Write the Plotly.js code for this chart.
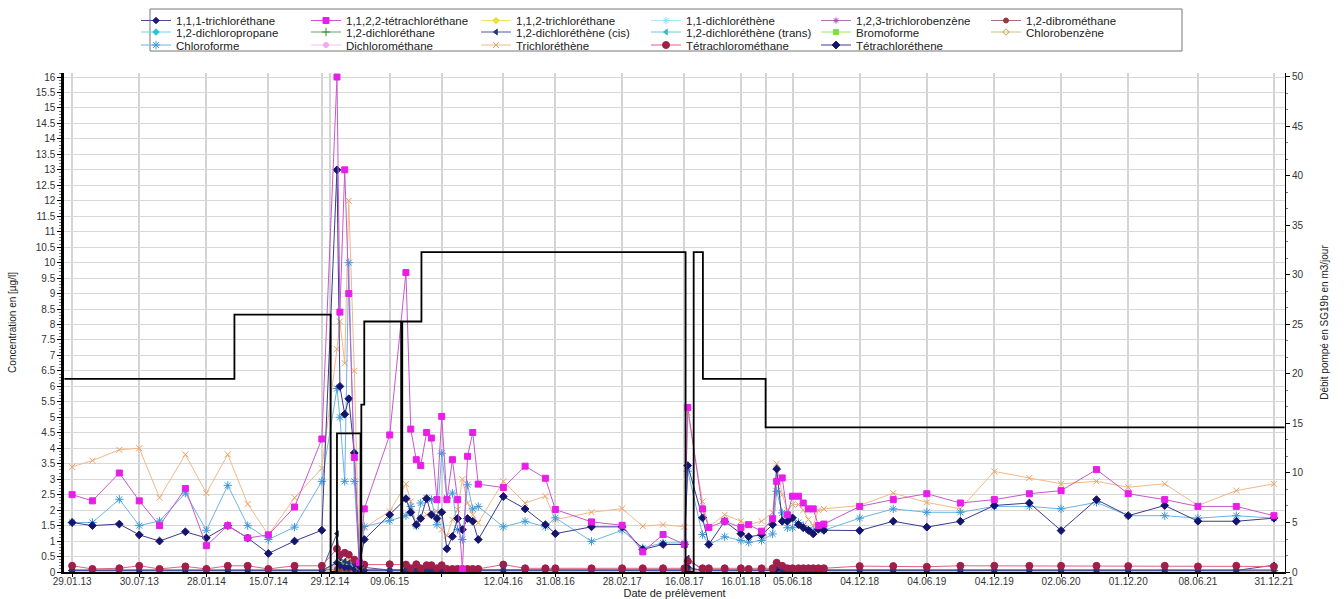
<!DOCTYPE html>
<html><head><meta charset="utf-8">
<script src="https://cdn.plot.ly/plotly-3.0.1.min.js"></script>
<style>html,body{margin:0;padding:0;background:#fff}#chart{width:1344px;height:599px}</style>
</head><body><div id="chart"></div>
<script>
// ---- sample dates (75) ----
const sampleDates = [
'2013-01-29','2013-03-25','2013-06-06','2013-07-30','2013-09-23','2013-12-02','2014-01-28','2014-03-27','2014-05-20','2014-07-15','2014-09-24','2014-12-07',
'2015-01-17','2015-01-25','2015-02-07','2015-02-18','2015-03-05','2015-03-19','2015-04-01',
'2015-06-09',
'2015-07-23','2015-08-05','2015-08-20','2015-09-01','2015-09-17','2015-09-30','2015-10-15','2015-10-28','2015-11-11','2015-11-26','2015-12-10','2015-12-23','2016-01-06','2016-01-20','2016-02-04',
'2016-04-12','2016-06-10','2016-08-04','2016-08-31','2016-12-07','2017-02-28','2017-04-25','2017-06-19','2017-08-16',
'2017-08-25','2017-10-04','2017-10-21','2017-12-03','2018-01-16',
'2018-02-06','2018-03-13','2018-04-12','2018-04-23','2018-05-08','2018-05-22','2018-06-05',
'2018-06-21','2018-07-04','2018-07-18','2018-07-31','2018-08-14','2018-08-29',
'2018-12-04','2019-03-05','2019-06-04','2019-09-03','2019-12-04','2020-03-08','2020-06-02','2020-09-06','2020-12-01','2021-03-10','2021-06-08','2021-09-20','2021-12-31'
];

// ---- main series (µg/l) ----
const tetrachloroethane1122 = [
2.5,2.3,3.2,2.3,1.5,2.7,0.85,1.5,1.1,1.2,2.1,4.3,
16.0,8.4,13.0,9.0,3.7,0.3,2.04,
4.43,
9.68,4.62,3.63,3.44,4.51,4.33,2.34,5.03,2.34,3.63,2.34,0.08,3.74,4.51,2.84,
2.73,3.42,3.03,2.02,1.62,1.51,0.65,1.21,0.89,
5.32,2.04,1.44,1.64,1.44,
1.53,1.32,1.72,2.93,3.04,1.85,2.45,
2.45,2.23,2.04,2.04,1.5,1.55,
2.12,2.34,2.53,2.23,2.34,2.53,2.63,3.31,2.53,2.34,2.12,2.12,1.82
];
const trichloroethene = [
3.4,3.6,3.95,4.0,2.4,3.8,2.55,3.8,2.2,1.2,2.4,3.35,
7.2,8.1,6.75,12.0,6.5,0.2,1.43,
1.96,
2.84,2.28,1.53,1.73,1.85,1.93,1.96,1.37,1.17,1.69,2.02,3.0,2.23,1.85,1.59,
2.93,2.23,2.45,1.69,1.93,2.05,1.48,1.53,1.46,
5.15,2.28,1.46,1.85,1.64,
1.53,1.64,1.92,3.5,2.5,2.0,2.18,
2.18,2.0,1.7,1.5,2.0,2.04,
2.15,2.55,2.25,2.04,3.25,3.04,2.85,2.93,2.74,2.85,2.15,2.63,2.85
];
const chloroforme = [
1.6,1.6,2.35,1.5,1.65,2.55,1.35,2.8,1.5,1.05,1.45,2.93,
5.93,5.0,2.93,10.0,2.93,0.15,1.47,
1.66,
1.82,2.12,1.48,2.23,2.39,2.34,1.53,3.84,2.39,2.55,1.37,1.05,2.82,2.04,2.12,
1.46,1.64,1.46,1.75,0.99,1.35,0.78,0.94,0.94,
3.26,1.21,0.89,1.14,1.02,
0.96,1.02,1.23,2.61,1.91,1.43,1.43,
1.6,1.5,1.35,1.35,1.4,1.35,
1.74,2.04,1.93,1.93,2.12,2.12,2.04,2.25,1.82,1.82,1.74,1.82,1.74
];
const tetrachloroethene = [
1.6,1.5,1.55,1.2,1.0,1.3,1.1,1.5,1.1,0.6,1.0,1.35,
13.0,6.0,5.1,5.6,3.85,0.2,1.05,
1.85,
2.37,1.93,1.53,1.73,2.37,1.85,1.73,1.93,0.75,1.15,1.73,1.37,1.73,1.64,1.05,
2.44,2.04,1.53,1.24,1.46,1.46,0.73,0.89,0.89,
3.44,1.75,0.89,1.64,1.24,
1.14,1.2,1.53,3.33,1.64,1.64,1.75,
1.53,1.43,1.35,1.23,1.38,1.35,
1.34,1.64,1.45,1.64,2.15,2.23,1.34,2.34,1.82,2.15,1.64,1.64,1.74
];
const tetrachloromethane = [
0.2,0.1,0.12,0.2,0.1,0.18,0.1,0.2,0.2,0.1,0.2,0.2,
0.75,0.56,0.62,0.56,0.4,0.17,0.24,
0.25,
0.24,0.12,0.25,0.12,0.22,0.22,0.12,0.22,0.1,0.1,0.1,0.1,0.1,0.1,0.1,
0.24,0.12,0.12,0.12,0.12,0.12,0.12,0.12,0.12,
0.35,0.12,0.12,0.12,0.12,
0.1,0.12,0.12,0.3,0.2,0.12,0.12,
0.12,0.12,0.12,0.12,0.12,0.12,
0.19,0.19,0.17,0.2,0.2,0.2,0.2,0.2,0.19,0.2,0.18,0.2,0.18
];

// ---- minor series near zero (µg/l) ----
const trichloroethane111 = [
0.05,0.05,0.05,0.05,0.05,0.05,0.05,0.05,0.05,0.05,0.05,0.05,
0.3,0.2,0.15,0.15,0.1,0.05,0.05,
0.05,
0.05,0.05,0.05,0.05,0.05,0.05,0.05,0.05,0.05,0.05,0.05,0.05,0.05,0.05,0.05,
0.05,0.05,0.05,0.05,0.05,0.05,0.05,0.05,0.05,
0.15,0.05,0.05,0.05,0.05,
0.05,0.05,0.05,0.1,0.05,0.05,0.05,
0.05,0.05,0.05,0.05,0.05,0.05,
0.05,0.05,0.05,0.05,0.05,0.05,0.05,0.05,0.05,0.05,0.05,0.05,0.22
];
const trichloroethane112 = [
0.04,0.04,0.04,0.04,0.04,0.04,0.04,0.04,0.04,0.04,0.04,0.04,
0.3,0.25,0.2,0.35,0.15,0.04,0.04,
0.04,
0.04,0.04,0.04,0.04,0.04,0.04,0.04,0.04,0.04,0.04,0.04,0.04,0.04,0.04,0.04,
0.04,0.04,0.04,0.04,0.04,0.04,0.04,0.04,0.04,
0.1,0.04,0.04,0.04,0.04,
0.04,0.04,0.04,0.04,0.04,0.04,0.04,
0.04,0.04,0.04,0.04,0.04,0.04,
0.04,0.04,0.04,0.04,0.04,0.04,0.04,0.04,0.04,0.04,0.04,0.04,0.04
];
const dichloroethene11 = [
0.03,0.03,0.03,0.03,0.03,0.03,0.03,0.03,0.03,0.03,0.03,0.03,
0.35,0.3,0.25,0.3,0.2,0.03,0.05,
0.03,
0.03,0.03,0.03,0.03,0.03,0.03,0.03,0.03,0.03,0.03,0.03,0.03,0.03,0.03,0.03,
0.03,0.03,0.03,0.03,0.03,0.03,0.03,0.03,0.03,
0.1,0.03,0.03,0.03,0.03,
0.03,0.03,0.03,0.05,0.03,0.03,0.03,
0.03,0.03,0.03,0.03,0.03,0.03,
0.03,0.03,0.03,0.03,0.03,0.03,0.03,0.03,0.03,0.03,0.03,0.03,0.03
];
const trichlorobenzene123 = [
0.02,0.02,0.02,0.02,0.02,0.02,0.02,0.02,0.02,0.02,0.02,0.02,
0.02,0.02,0.02,0.02,0.02,0.02,0.02,
0.02,
0.02,0.02,0.02,0.02,0.02,0.02,0.02,0.02,0.02,0.02,0.02,0.02,0.02,0.02,0.02,
0.02,0.02,0.02,0.02,0.02,0.02,0.02,0.02,0.02,
0.02,0.02,0.02,0.02,0.02,
0.02,0.02,0.02,0.02,0.02,0.02,0.02,
0.02,0.02,0.02,0.02,0.02,0.02,
0.02,0.02,0.02,0.02,0.02,0.02,0.02,0.02,0.02,0.02,0.02,0.02,0.02
];
const dibromoethane12 = [
0.06,0.06,0.06,0.06,0.06,0.06,0.06,0.06,0.06,0.06,0.06,0.06,
0.1,0.08,0.08,0.08,0.06,0.06,0.06,
0.06,
0.06,0.06,0.06,0.06,0.06,0.06,0.06,0.06,0.06,0.06,0.06,0.06,0.06,0.06,0.06,
0.06,0.06,0.06,0.06,0.06,0.06,0.06,0.06,0.06,
0.06,0.06,0.06,0.06,0.06,
0.06,0.06,0.06,0.06,0.06,0.06,0.06,
0.06,0.06,0.06,0.06,0.06,0.06,
0.06,0.06,0.06,0.06,0.06,0.06,0.06,0.06,0.06,0.06,0.06,0.06,0.06
];
const dichloropropane12 = [
0.03,0.03,0.03,0.03,0.03,0.03,0.03,0.03,0.03,0.03,0.03,0.03,
0.25,0.2,0.2,0.25,0.1,0.03,0.03,
0.03,
0.03,0.03,0.03,0.03,0.03,0.03,0.03,0.03,0.03,0.03,0.03,0.03,0.03,0.03,0.03,
0.03,0.03,0.03,0.03,0.03,0.03,0.03,0.03,0.03,
0.03,0.03,0.03,0.03,0.03,
0.03,0.03,0.03,0.03,0.03,0.03,0.03,
0.03,0.03,0.03,0.03,0.03,0.03,
0.03,0.03,0.03,0.03,0.03,0.03,0.03,0.03,0.03,0.03,0.03,0.03,0.03
];
const dichloroethane12 = [
0.05,0.05,0.05,0.05,0.05,0.05,0.05,0.05,0.05,0.05,0.05,0.05,
0.3,0.25,0.3,0.2,0.15,0.05,0.05,
0.05,
0.05,0.05,0.05,0.05,0.05,0.05,0.05,0.05,0.05,0.05,0.05,0.05,0.05,0.05,0.05,
0.05,0.05,0.05,0.05,0.05,0.05,0.05,0.05,0.05,
0.05,0.05,0.05,0.05,0.05,
0.05,0.05,0.05,0.05,0.05,0.05,0.05,
0.05,0.05,0.05,0.05,0.05,0.05,
0.05,0.05,0.05,0.05,0.05,0.05,0.05,0.05,0.05,0.05,0.05,0.05,0.05
];
const dichloroetheneCis = [
0.06,0.06,0.06,0.06,0.06,0.06,0.06,0.06,0.06,0.06,0.06,0.06,
1.24,0.45,0.35,0.3,0.25,0.1,0.15,
0.06,
0.06,0.06,0.06,0.06,0.06,0.06,0.06,0.06,0.06,0.06,0.06,0.06,0.06,0.06,0.06,
0.06,0.06,0.06,0.06,0.06,0.06,0.06,0.06,0.06,
0.45,0.06,0.06,0.06,0.06,
0.06,0.06,0.06,0.2,0.06,0.06,0.06,
0.06,0.06,0.06,0.06,0.06,0.06,
0.06,0.06,0.06,0.06,0.06,0.06,0.06,0.06,0.06,0.06,0.06,0.06,0.06
];
const dichloroetheneTrans = [
0.03,0.03,0.03,0.03,0.03,0.03,0.03,0.03,0.03,0.03,0.03,0.03,
0.2,0.15,0.15,0.2,0.1,0.03,0.03,
0.03,
0.03,0.03,0.03,0.03,0.03,0.03,0.03,0.03,0.03,0.03,0.03,0.03,0.03,0.03,0.03,
0.03,0.03,0.03,0.03,0.03,0.03,0.03,0.03,0.03,
0.03,0.03,0.03,0.03,0.03,
0.03,0.03,0.03,0.03,0.03,0.03,0.03,
0.03,0.03,0.03,0.03,0.03,0.03,
0.03,0.03,0.03,0.03,0.03,0.03,0.03,0.03,0.03,0.03,0.03,0.03,0.03
];
const bromoforme = [
0.02,0.02,0.02,0.02,0.02,0.02,0.02,0.02,0.02,0.02,0.02,0.02,
0.02,0.02,0.02,0.02,0.02,0.02,0.02,
0.02,
0.02,0.02,0.02,0.02,0.02,0.02,0.02,0.02,0.02,0.02,0.02,0.02,0.02,0.02,0.02,
0.02,0.02,0.02,0.02,0.02,0.02,0.02,0.02,0.02,
0.02,0.02,0.02,0.02,0.02,
0.02,0.02,0.02,0.02,0.02,0.02,0.02,
0.02,0.02,0.02,0.02,0.02,0.02,
0.02,0.02,0.02,0.02,0.02,0.02,0.02,0.02,0.02,0.02,0.02,0.02,0.02
];
const chlorobenzene = [
0.04,0.04,0.04,0.04,0.04,0.04,0.04,0.04,0.04,0.04,0.04,0.04,
0.04,0.04,0.04,0.04,0.04,0.04,0.04,
0.04,
0.04,0.04,0.04,0.04,0.04,0.04,0.04,0.04,0.04,0.04,0.04,0.04,0.04,0.04,0.04,
0.04,0.04,0.04,0.04,0.04,0.04,0.04,0.04,0.04,
0.04,0.04,0.04,0.04,0.04,
0.04,0.04,0.04,0.04,0.04,0.04,0.04,
0.04,0.04,0.04,0.04,0.04,0.04,
0.04,0.04,0.04,0.04,0.04,0.04,0.04,0.04,0.04,0.04,0.04,0.04,0.04
];
const dichloromethane = [
0.05,0.05,0.05,0.05,0.05,0.05,0.05,0.05,0.05,0.05,0.05,0.05,
0.2,0.15,0.1,0.1,0.1,0.05,0.05,
0.05,
0.05,0.05,0.05,0.05,0.05,0.05,0.05,0.05,0.05,0.05,0.05,0.05,0.05,0.05,0.05,
0.05,0.05,0.05,0.05,0.05,0.05,0.05,0.05,0.05,
0.05,0.05,0.05,0.05,0.05,
0.05,0.05,0.05,0.05,0.05,0.05,0.05,
0.05,0.05,0.05,0.05,0.05,0.05,
0.05,0.05,0.05,0.05,0.05,0.05,0.05,0.05,0.05,0.05,0.05,0.05,0.05
];

// ---- pumped flow (m3/jour), step line ----
const flowDates = ['2013-01-08','2014-04-14','2014-12-31','2015-01-17','2015-03-22','2015-03-24','2015-04-01','2015-07-10','2015-07-13','2015-09-03','2017-08-19','2017-09-10','2017-10-05','2018-03-24','2022-01-29'];
const flowValues = [19.5,26.0,0,14.0,0,16.9,25.3,0,25.3,32.3,0,32.3,19.5,14.6,14.6];

// ---- x tick labels ----
const tickDates = ['2013-01-29','2013-07-30','2014-01-28','2014-07-15','2014-12-07','2014-12-29','2015-06-09','2015-10-28','2016-04-12','2016-08-31','2017-02-28','2017-08-16','2018-01-16','2018-03-24','2018-06-05','2018-12-04','2019-06-04','2019-12-04','2020-06-02','2020-12-01','2021-06-08','2021-12-31'];
const tickLabels = ['29.01.13','30.07.13','28.01.14','15.07.14','','29.12.14','09.06.15','','12.04.16','31.08.16','28.02.17','16.08.17','16.01.18','','05.06.18','04.12.18','04.06.19','04.12.19','02.06.20','01.12.20','08.06.21','31.12.21'];

const FONT = 'Liberation Sans, Arial, sans-serif';
const NARROW = 'Liberation Sans Narrow, Liberation Sans, Arial, sans-serif';

// drawing order (first = bottom); r = legend order, g = legend row
const defs = [
 {name:'1,2,3-trichlorobenzène', y:trichlorobenzene123, c:'#a04ca0', l:'#b070b0', s:'asterisk-open', z:5, r:5, g:'legend'},
 {name:'Bromoforme', y:bromoforme, c:'#7ee03a', l:'#9ae860', s:'square', z:5, r:11, g:'legend2'},
 {name:'1,2-dichloréthène (trans)', y:dichloroetheneTrans, c:'#30bccc', l:'#60ccd8', s:'triangle-left', z:5, r:10, g:'legend2'},
 {name:'1,2-dichloropropane', y:dichloropropane12, c:'#20c8d8', l:'#60d8e4', s:'diamond', z:5, r:7, g:'legend2'},
 {name:'1,1-dichloréthène', y:dichloroethene11, c:'#8fe0ee', l:'#a8e8f2', s:'asterisk-open', z:6, r:4, g:'legend'},
 {name:'1,1,2-trichloréthane', y:trichloroethane112, c:'#f0dc40', l:'#f2e470', s:'diamond', z:5, r:3, g:'legend'},
 {name:'Chlorobenzène', y:chlorobenzene, c:'#c0a840', l:'#d0c080', s:'diamond-open', z:5, r:12, g:'legend2'},
 {name:'1,2-dichloréthane', y:dichloroethane12, c:'#2a8a2a', l:'#60a860', s:'cross-thin-open', z:6, r:8, g:'legend2'},
 {name:'Dichlorométhane', y:dichloromethane, c:'#f0a8f0', l:'#f2c0f2', s:'circle', z:5, r:14, g:'legend3'},
 {name:'1,2-dibrométhane', y:dibromoethane12, c:'#8b4040', l:'#a87070', s:'circle', z:5, r:6, g:'legend'},
 {name:'1,1,1-trichloréthane', y:trichloroethane111, c:'#1c1c78', l:'#4a4a98', s:'diamond', z:5, r:1, g:'legend'},
 {name:'1,2-dichloréthène (cis)', y:dichloroetheneCis, c:'#26347e', l:'#4a5898', s:'triangle-left', z:5, r:9, g:'legend2'},
 {name:'Tétrachlorométhane', y:tetrachloromethane, c:'#a01e4a', l:'#e0607e', s:'circle', z:7, r:16, g:'legend3'},
 {name:'Trichloréthène', y:trichloroethene, c:'#eea060', l:'#f2b88a', s:'x-thin-open', z:6, r:15, g:'legend3'},
 {name:'Chloroforme', y:chloroforme, c:'#3a98d8', l:'#6cb4e4', s:'asterisk-open', z:7, r:13, g:'legend3'},
 {name:'Tétrachloréthene', y:tetrachloroethene, c:'#14146e', l:'#3a3a90', s:'diamond', z:6, r:17, g:'legend3'},
 {name:'1,1,2,2-tétrachloréthane', y:tetrachloroethane1122, c:'#e81ee8', l:'#c858cc', s:'square', z:6, r:2, g:'legend'}
];

const traces = defs.map(d => ({
  type:'scatter', mode:'lines+markers', name:d.name, x:sampleDates, y:d.y, yaxis:'y',
  line:{color:d.l, width:1},
  marker:{color:d.c, symbol:d.s, size:d.z, line:{color:d.c, width:1}},
  legendrank:d.r, legend:d.g, hoverinfo:'x+y+name'
}));
traces.push({
  type:'scatter', mode:'lines', name:'Débit pompé', x:flowDates, y:flowValues, yaxis:'y2',
  line:{color:'#000', width:1.8, shape:'hv'}, showlegend:false
});

function legendRow(topPx) {
  return {orientation:'h', xref:'container', yref:'container', x:136/1344, y:1-topPx/599,
    xanchor:'left', yanchor:'top', borderwidth:0, bgcolor:'rgba(0,0,0,0)',
    font:{family:FONT, size:11.5, color:'#222'}, entrywidth:125, entrywidthmode:'pixels',
    itemwidth:30, tracegroupgap:0, traceorder:'normal'};
}

const layout = {
  width:1344, height:599,
  margin:{l:64, r:59, t:73, b:27},
  paper_bgcolor:'#fff', plot_bgcolor:'#fff',
  font:{family:FONT, size:10, color:'#333'},
  showlegend:true,
  legend:legendRow(6),
  legend2:legendRow(17.5),
  legend3:legendRow(30.5),
  shapes:[{type:'rect', xref:'paper', yref:'paper', x0:(150-64)/1221, x1:(1182-64)/1221,
    y0:(572-51)/499, y1:(572-9)/499, line:{color:'#777', width:1}, fillcolor:'rgba(0,0,0,0)', layer:'below'}],
  xaxis:{type:'date', range:['2013-01-07','2022-01-30'], tickmode:'array', tickvals:tickDates, ticktext:tickLabels,
    showgrid:true, gridcolor:'#d4d4d4', gridwidth:1.5, showline:true, linecolor:'#000', linewidth:1.5,
    ticks:'outside', ticklen:3, tickcolor:'#000', ticklabelstandoff:-4,
    tickfont:{family:FONT, size:10, color:'#333'}, zeroline:false,
    title:{text:'Date de prélèvement', font:{family:FONT, size:11, color:'#222'}, standoff:0}, automargin:false},
  yaxis:{range:[0,16.13], dtick:0.5, tick0:0, showgrid:true, gridcolor:'#d8d8d8', gridwidth:1,
    showline:true, linecolor:'#000', linewidth:2.5, ticks:'outside', ticklen:4, tickcolor:'#000',
    tickfont:{family:FONT, size:10, color:'#333'}, zeroline:false,
    minor:{dtick:0.1, ticks:'outside', ticklen:2, tickcolor:'#777', showgrid:false},
    title:{text:'Concentration en [µg/l]', font:{family:NARROW, size:10, color:'#222'}, standoff:18}, automargin:false},
  yaxis2:{overlaying:'y', side:'right', range:[0,50.4], dtick:5, tick0:0, showgrid:false,
    showline:true, linecolor:'#000', linewidth:1, ticks:'outside', ticklen:4, tickcolor:'#000',
    tickfont:{family:FONT, size:10, color:'#333'}, zeroline:false,
    minor:{dtick:5/3, ticks:'outside', ticklen:2, tickcolor:'#777', showgrid:false},
    title:{text:'Débit pompé en SG19b en m3/jour', font:{family:NARROW, size:10, color:'#222'}, standoff:18}, automargin:false}
};

Plotly.newPlot('chart', traces, layout, {displayModeBar:false, responsive:false});
</script>
</body></html>
